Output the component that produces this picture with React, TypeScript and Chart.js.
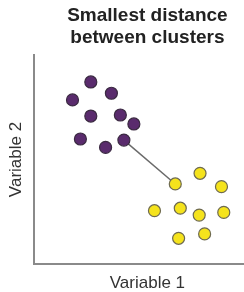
import React, { useEffect, useRef } from "react";
import { Chart, registerables } from "chart.js";

Chart.register(...registerables);

const titleLines = ["Smallest distance", "between clusters"];
const xLabel = "Variable 1";
const yLabel = "Variable 2";

const purpleX = [2.73, 1.85, 3.72, 2.73, 4.15, 4.8, 2.23, 3.44, 4.32];
const purpleY = [8.71, 7.85, 8.17, 7.08, 7.13, 6.7, 5.98, 5.58, 5.93];
const yellowX = [6.79, 7.98, 9.01, 5.79, 7.03, 7.94, 9.12, 6.95, 8.2];
const yellowY = [3.83, 4.34, 3.7, 2.55, 2.67, 2.34, 2.47, 1.23, 1.44];
// indices of the closest pair
const nearestPurple = 8;
const nearestYellow = 0;

export default function App() {
  const ref = useRef<HTMLCanvasElement>(null);
  useEffect(() => {
    if (!ref.current) return;
    const pts = (xs: number[], ys: number[]) => xs.map((x, i) => ({ x, y: ys[i] }));
    const chart = new Chart(ref.current, {
      type: "scatter",
      data: {
        datasets: [
          {
            type: "line",
            data: [
              { x: purpleX[nearestPurple], y: purpleY[nearestPurple] },
              { x: yellowX[nearestYellow], y: yellowY[nearestYellow] },
            ],
            borderColor: "#6a6a6a",
            borderWidth: 1.5,
            pointRadius: 0,
            order: 3,
            clip: false,
          } as any,
          {
            data: pts(purpleX, purpleY),
            backgroundColor: "#5a2b6d",
            borderColor: "#3b2a42",
            borderWidth: 1.2,
            pointRadius: 6,
            order: 1,
            clip: false,
          },
          {
            data: pts(yellowX, yellowY),
            backgroundColor: "#f5e31c",
            borderColor: "#6e6a50",
            borderWidth: 1.2,
            pointRadius: 6,
            order: 2,
            clip: false,
          },
        ],
      },
      options: {
        animation: false,
        responsive: false,
        devicePixelRatio: 1,
        layout: { padding: { left: 7.5, top: 5, right: 2, bottom: 0 } },
        plugins: {
          legend: { display: false },
          tooltip: { enabled: false },
          title: {
            display: true,
            text: titleLines,
            fullSize: false,
            color: "#222",
            font: { family: "Liberation Sans, Arial, sans-serif", size: 19, weight: "bold", lineHeight: 1.158 },
            padding: { top: 0, bottom: 6 },
          },
        },
        scales: {
          x: {
            type: "linear",
            min: 0,
            max: 10.9,
            ticks: { display: false },
            grid: { display: false, drawTicks: false, tickLength: 0 },
            border: { display: true, color: "#8a8a8a", width: 2 },
            title: {
              display: true,
              text: xLabel,
              color: "#333",
              font: { family: "Liberation Sans, Arial, sans-serif", size: 17, lineHeight: 1 },
              padding: { top: 11, bottom: 0 },
            },
          },
          y: {
            type: "linear",
            min: 0,
            max: 10,
            ticks: { display: false },
            grid: { display: false, drawTicks: false, tickLength: 0 },
            border: { display: true, color: "#8a8a8a", width: 2 },
            title: {
              display: true,
              text: yLabel,
              color: "#333",
              font: { family: "Liberation Sans, Arial, sans-serif", size: 17, lineHeight: 1 },
              padding: { top: 0, bottom: 9.5 },
            },
          },
        },
      },
    });
    return () => chart.destroy();
  }, []);
  return (
    <div style={{ position: "absolute", left: 0, top: 0, width: 244, height: 292, overflow: "hidden", background: "#fff" }}>
      <canvas ref={ref} width={268} height={292} style={{ display: "block" }} />
    </div>
  );
}
